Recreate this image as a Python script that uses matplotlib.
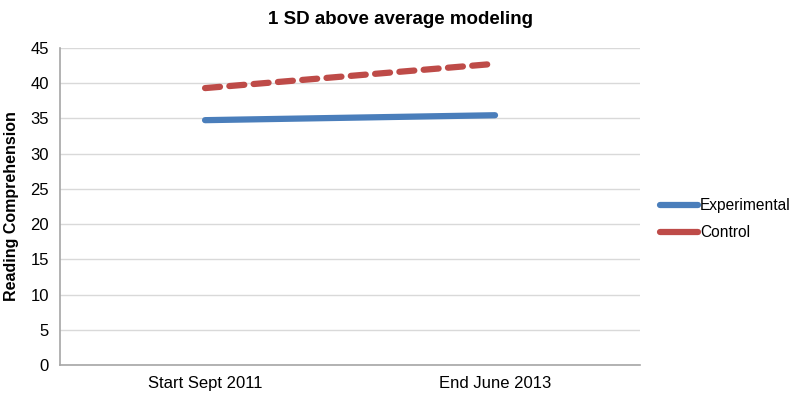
import matplotlib.pyplot as plt
from matplotlib.lines import Line2D
import numpy as np

plt.rcParams['font.family'] = ['Liberation Sans', 'DejaVu Sans']

categories = ['Start Sept 2011', 'End June 2013']
experimental = [34.75, 35.45]
control = [39.3, 42.75]

fig = plt.figure(figsize=(8.01, 3.96), dpi=100)
ax = fig.add_axes([0.075, 0.078, 0.724, 0.801])

x = np.arange(len(categories))
ax.plot(x, experimental, color='#4a7ebb', lw=4.5, solid_capstyle='round')
ax.plot(x, control, color='#be4b48', lw=4.5, ls=(0, (2.4, 1.5)), dash_capstyle='round')

ax.set_xlim(-0.5, 1.5)
ax.set_ylim(0, 45)
ax.set_yticks(np.arange(0, 46, 5))
ax.set_xticks(x)
ax.set_xticklabels(categories)
ax.tick_params(length=0, labelsize=12, pad=8)
ax.grid(axis='y', color='#d9d9d9', lw=1)
ax.set_axisbelow(True)
for s in ['top', 'right']:
    ax.spines[s].set_visible(False)
for s in ['left', 'bottom']:
    ax.spines[s].set_color('#a6a6a6')
    ax.spines[s].set_linewidth(1.2)

ax.set_ylabel('Reading Comprehension', fontsize=11.5, fontweight='bold', labelpad=8)
fig.text(0.5, 0.94, '1 SD above average modeling', ha='center', fontsize=13.5, fontweight='bold')

handles = [Line2D([], [], color='#4a7ebb', lw=4.5, solid_capstyle='round'),
           Line2D([], [], color='#be4b48', lw=4.5, solid_capstyle='round')]
ax.legend(handles, ['Experimental', 'Control'], loc='center left',
          bbox_to_anchor=(1.015, 0.46), frameon=False, fontsize=11.2,
          handlelength=2.5, handletextpad=0.1, labelspacing=0.8, borderpad=0.2)

fig.savefig('out.png', dpi=100)
